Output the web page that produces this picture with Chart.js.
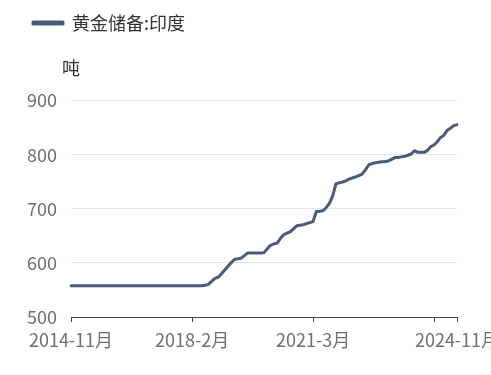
<!DOCTYPE html>
<html>
<head>
<meta charset="utf-8">
<script src="https://cdn.jsdelivr.net/npm/chart.js@4/dist/chart.umd.min.js"></script>
<style>
  html, body { margin: 0; padding: 0; background: #ffffff; }
  #wrap { width: 491px; height: 375px; }
</style>
</head>
<body>
<div id="wrap"><canvas id="c" width="491" height="375"></canvas></div>
<script>
// ---- data ----
const seriesName = '黄金储备:印度';
const unitLabel = '吨';
const categories = [
  '2014-11月','2014-12月',
  '2015-1月','2015-2月','2015-3月','2015-4月','2015-5月','2015-6月','2015-7月','2015-8月','2015-9月','2015-10月','2015-11月','2015-12月',
  '2016-1月','2016-2月','2016-3月','2016-4月','2016-5月','2016-7月','2016-8月','2016-9月','2016-10月','2016-11月','2016-12月',
  '2017-1月','2017-2月','2017-3月','2017-4月','2017-5月','2017-7月','2017-8月','2017-9月','2017-10月','2017-11月','2017-12月',
  '2018-1月','2018-2月','2018-3月','2018-4月','2018-5月','2018-6月','2018-7月','2018-8月','2018-9月','2018-10月','2018-11月','2018-12月',
  '2019-1月','2019-2月','2019-3月','2019-4月','2019-5月','2019-6月','2019-7月','2019-8月','2019-9月','2019-10月','2019-11月','2019-12月',
  '2020-1月','2020-2月','2020-3月','2020-4月','2020-5月','2020-6月','2020-7月','2020-8月','2020-9月','2020-10月','2020-11月','2020-12月',
  '2021-1月','2021-2月','2021-3月','2021-4月','2021-5月','2021-6月','2021-7月','2021-8月','2021-9月','2021-10月','2021-11月','2021-12月',
  '2022-1月','2022-2月','2022-3月','2022-4月','2022-5月','2022-6月','2022-7月','2022-8月','2022-9月','2022-10月','2022-11月','2022-12月',
  '2023-1月','2023-2月','2023-3月','2023-4月','2023-5月','2023-6月','2023-7月','2023-8月','2023-9月','2023-10月','2023-11月','2023-12月',
  '2024-1月','2024-2月','2024-3月','2024-4月','2024-5月','2024-6月','2024-7月','2024-8月','2024-9月','2024-10月','2024-11月'
];
const goldReserves = [
  557.8,557.8,
  557.8,557.8,557.8,557.8,557.8,557.8,557.8,557.8,557.8,557.8,557.8,557.8,
  557.8,557.8,557.8,557.8,557.8,557.8,557.8,557.8,557.8,557.8,557.8,
  557.8,557.8,557.8,557.8,557.8,557.8,557.8,557.8,557.8,557.8,557.8,
  557.8,557.8,557.8,557.8,557.8,558.8,560.3,566.0,571.5,573.5,580.0,587.0,
  594.0,600.5,606.5,607.5,608.7,613.5,618.5,618.5,618.5,618.5,618.5,619.0,
  626.0,632.5,635.0,636.5,645.0,652.0,655.0,657.5,663.0,668.5,669.5,670.5,
  672.5,674.5,676.6,695.0,695.5,696.3,702.0,710.0,724.0,746.3,748.0,749.5,
  751.5,755.0,757.0,759.0,761.5,764.0,772.0,781.0,783.5,785.2,786.0,787.0,
  787.5,788.5,791.5,794.6,795.0,796.0,797.0,799.0,801.3,807.4,804.3,804.3,
  804.3,808.0,815.0,818.0,824.0,832.0,836.0,845.0,849.0,853.7,855.6
];
const xTickCategories = ['2014-11月','2018-2月','2021-3月','2024-4月','2024-11月'];
const xHiddenTickLabels = ['2024-4月'];
const yTicks = [500, 600, 700, 800, 900];

// ---- styles ----
const LINE_COLOR = '#4b5a7a';
const FONT = '"Noto Sans CJK SC", "Noto Sans", sans-serif';

// centre the unit title over the y axis
const unitTitleShift = {
  id: 'unitTitleShift',
  afterLayout(chart) {
    const t = chart.titleBlock;
    if (t) {
      const w = t.right - t.left;
      t.left = chart.chartArea.left - 9;
      t.right = t.left + w;
    }
  }
};

new Chart(document.getElementById('c'), {
  type: 'line',
  data: {
    labels: categories,
    datasets: [{
      label: seriesName,
      data: goldReserves,
      borderColor: LINE_COLOR,
      backgroundColor: LINE_COLOR,
      borderWidth: 3,
      pointRadius: 0,
      pointHoverRadius: 0,
      tension: 0,
      borderJoinStyle: 'round',
      borderCapStyle: 'round',
      fill: false
    }]
  },
  options: {
    responsive: false,
    animation: false,
    devicePixelRatio: 1,
    layout: { padding: { left: 23, right: 34, top: 4, bottom: 0 } },
    plugins: {
      tooltip: { enabled: false },
      legend: {
        display: true,
        position: 'top',
        align: 'start',
        labels: {
          boxWidth: 30,
          boxHeight: 2,
          padding: 10,
          color: '#333333',
          font: { family: FONT, size: 18 }
        }
      },
      title: {
        display: true,
        text: unitLabel,
        position: 'top',
        align: 'start',
        fullSize: false,
        weight: 500,
        color: '#333333',
        font: { family: FONT, size: 18, weight: 'normal', lineHeight: 1.2 },
        padding: { top: 15, bottom: 22 }
      }
    },
    scales: {
      x: {
        type: 'category',
        offset: false,
        grid: {
          display: true,
          drawOnChartArea: false,
          drawTicks: true,
          tickLength: 5,
          color: '#444444'
        },
        border: { display: true, color: '#444444', width: 1 },
        ticks: {
          autoSkip: false,
          maxRotation: 0,
          minRotation: 0,
          padding: 7,
          color: '#6e7079',
          font: { family: FONT, size: 18 },
          callback: function(value) {
            const lab = categories[value];
            return xHiddenTickLabels.includes(lab) ? '' : lab;
          }
        },
        afterBuildTicks: function(scale) {
          scale.ticks = xTickCategories.map(c => ({ value: categories.indexOf(c) }));
        },
        afterFit: function(scale) {
          scale.paddingLeft = 0;
          scale.paddingRight = 0;
          scale.height = 58;
        }
      },
      y: {
        min: yTicks[0],
        max: yTicks[yTicks.length - 1],
        grid: {
          color: '#e0e6f1',
          drawTicks: false,
          lineWidth: 1
        },
        border: { display: false },
        ticks: {
          stepSize: 100,
          padding: 14,
          color: '#6e7079',
          font: { family: FONT, size: 18 }
        },
        afterBuildTicks: function(scale) {
          scale.ticks = yTicks.map(v => ({ value: v }));
        },
        afterFit: function(scale) {
          scale.width = 48;
        }
      }
    }
  },
  plugins: [unitTitleShift]
});
</script>
</body>
</html>
